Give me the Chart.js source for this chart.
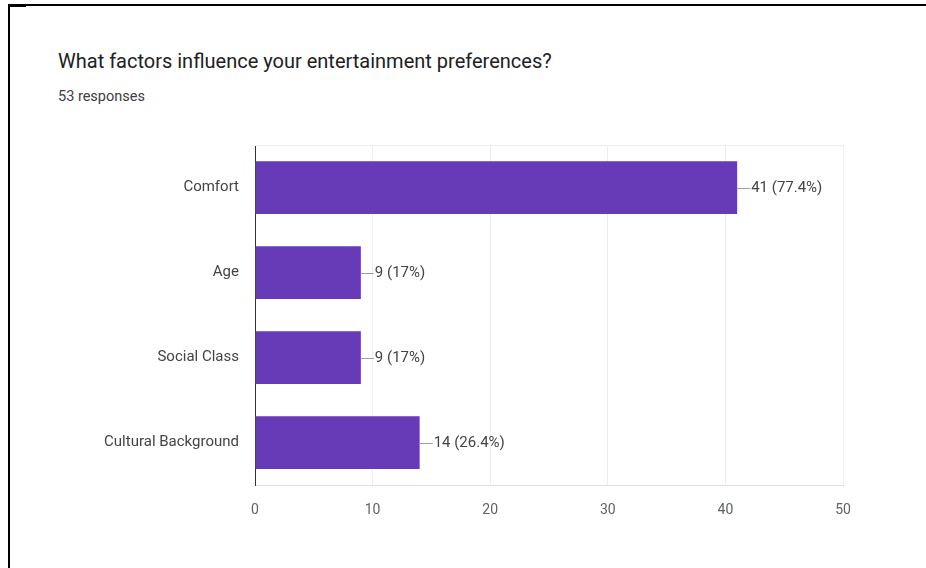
<!DOCTYPE html>
<html lang="en">
<head>
  <meta charset="UTF-8">
  <title>Entertainment Preferences</title>
  <script src="https://cdn.jsdelivr.net/npm/chart.js"></script>
  <style>
    * {
      box-sizing: border-box;
      margin: 0;
      padding: 0;
    }

    body {
      background-color: white;
      font-family: Roboto, 'Noto Sans', sans-serif;
      overflow: hidden;
    }

    .page {
      position: relative;
      width: 926px;
      height: 568px;
      overflow: hidden;
    }

    .frame {
      position: absolute;
      left: 8px;
      top: 4px;
      width: 918px;
      height: 564px;
      border-top: 2px solid #000;
      border-left: 2px solid #000;
    }

    .frame-corner {
      position: absolute;
      left: 8px;
      top: 4px;
      width: 18px;
      height: 3px;
      background-color: #000;
    }

    .question {
      position: absolute;
      left: 58px;
      top: 49px;
      font-size: 20px;
      color: #202124;
      white-space: nowrap;
    }

    .responses {
      position: absolute;
      left: 58px;
      top: 88px;
      font-size: 14.5px;
      color: #3c4043;
    }

    .chart-box {
      position: absolute;
      left: 0;
      top: 0;
      width: 926px;
      height: 568px;
    }
  </style>
</head>
<body>

<div class="page">
  <div class="frame"></div>
  <div class="frame-corner"></div>
  <div class="question">What factors influence your entertainment preferences?</div>
  <div class="responses">53 responses</div>
  <div class="chart-box">
    <canvas id="factorsChart"></canvas>
  </div>
</div>

<script>
  const categories = ['Comfort', 'Age', 'Social Class', 'Cultural Background'];
  const counts = [41, 9, 9, 14];
  const percents = ['77.4%', '17%', '17%', '26.4%'];
  const xTicks = [0, 10, 20, 30, 40, 50];

  // count (percent) labels with a short leader line after each bar
  const valueLabels = {
    id: 'valueLabels',
    afterDatasetsDraw(chart) {
      const ctx = chart.ctx;
      const bars = chart.getDatasetMeta(0).data;
      ctx.save();
      ctx.font = '15px Roboto, sans-serif';
      ctx.textAlign = 'left';
      ctx.textBaseline = 'middle';
      bars.forEach((bar, i) => {
        const y = Math.round(bar.y) + 0.5;
        ctx.strokeStyle = '#9e9e9e';
        ctx.lineWidth = 1;
        ctx.beginPath();
        ctx.moveTo(bar.x, y);
        ctx.lineTo(bar.x + 13, y);
        ctx.stroke();
        ctx.fillStyle = '#444';
        ctx.fillText(counts[i] + ' (' + percents[i] + ')', bar.x + 14, bar.y + 1);
      });
      ctx.restore();
    }
  };

  // faint line along the top of the plot area
  const topEdge = {
    id: 'topEdge',
    beforeDatasetsDraw(chart) {
      const { ctx, chartArea } = chart;
      ctx.save();
      ctx.strokeStyle = '#ececec';
      ctx.lineWidth = 1;
      ctx.beginPath();
      ctx.moveTo(chartArea.left, chartArea.top + 0.5);
      ctx.lineTo(chartArea.right, chartArea.top + 0.5);
      ctx.stroke();
      ctx.restore();
    }
  };

  new Chart(document.getElementById('factorsChart'), {
    type: 'bar',
    data: {
      labels: categories,
      datasets: [{
        data: counts,
        backgroundColor: '#673ab7',
        borderWidth: 0,
        barPercentage: 0.62,
        categoryPercentage: 1
      }]
    },
    options: {
      indexAxis: 'y',
      responsive: true,
      maintainAspectRatio: false,
      animation: false,
      layout: {
        padding: { left: 0, right: 83, top: 145, bottom: 32 }
      },
      plugins: {
        legend: { display: false },
        tooltip: { enabled: false }
      },
      scales: {
        x: {
          min: 0,
          max: 50,
          afterBuildTicks(axis) {
            axis.ticks = xTicks.map(v => ({ value: v }));
          },
          grid: { color: '#eeeeee', drawTicks: false },
          border: { color: '#e0e0e0' },
          ticks: {
            color: '#5f6368',
            padding: 17,
            font: { family: 'Roboto', size: 14 }
          }
        },
        y: {
          afterFit(axis) {
            axis.width = 255;
          },
          grid: { display: false },
          border: { color: '#333333' },
          ticks: {
            color: '#444',
            padding: 8,
            font: { family: 'Roboto', size: 15 }
          }
        }
      }
    },
    plugins: [valueLabels, topEdge]
  });
</script>

</body>
</html>
